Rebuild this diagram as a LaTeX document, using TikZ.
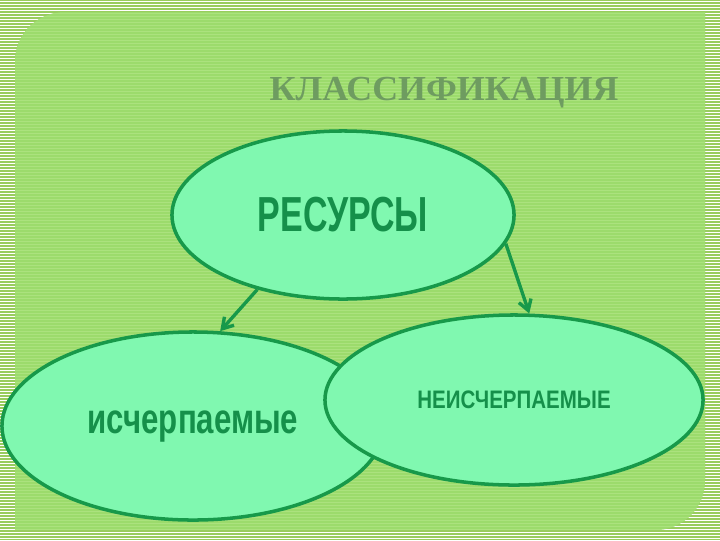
\documentclass[tikz,border=0pt]{standalone}
\usepackage{fontspec}
\usepackage{graphicx}
\setmainfont{Liberation Serif}
\newfontfamily\sansfnt{Liberation Sans}
\usetikzlibrary{arrows.meta,shapes.geometric}
\definecolor{stripegreen}{HTML}{98CC5E}
\definecolor{panelgreen}{HTML}{9CDB6C}
\definecolor{panelline}{HTML}{ABE27E}
\definecolor{mint}{HTML}{80F8B0}
\definecolor{rimgreen}{HTML}{17994A}
\definecolor{textgreen}{HTML}{15904A}
\definecolor{titlegreen}{HTML}{6E9C60}
\tikzset{
  oval/.style={ellipse, draw=rimgreen, line width=2.5pt, fill=mint, inner sep=0pt},
  arr/.style={draw=rimgreen, line width=2.4pt, -{Straight Barb[length=2.6mm,width=3.2mm]}}
}
\begin{document}
\begin{tikzpicture}[x=0.025cm,y=-0.025cm]
\useasboundingbox (0,0) rectangle (720,540);
% background stripes
\fill[stripegreen] (0,0) rectangle (720,540);
\foreach \y in {1,4,...,539} {\draw[white,line width=0.7pt] (0,\y) -- (720,\y);}
% panel
\fill[panelgreen] (15,530) -- (15,62) .. controls (15,34) and (37,12) .. (65,12)
  -- (705,12) -- (705,480) .. controls (705,508) and (683,530) .. (655,530) -- cycle;
\begin{scope}
\clip (15,530) -- (15,62) .. controls (15,34) and (37,12) .. (65,12)
  -- (705,12) -- (705,480) .. controls (705,508) and (683,530) .. (655,530) -- cycle;
\foreach \y in {1,4,...,539} {\draw[panelline,line width=0.5pt] (0,\y) -- (720,\y);}
\end{scope}
% title
\node[text=titlegreen,font=\bfseries\fontsize{25}{27}\selectfont] (title) at (444,93)
  {\scalebox{1.02}[1]{КЛАССИФИКАЦИЯ}};
% ovals
\node[oval,minimum width=8.55cm,minimum height=4.2cm] (res) at (343,215) {};
\node[oval,minimum width=9.55cm,minimum height=4.7cm] (isch) at (193,426) {};
\node[oval,minimum width=9.45cm,minimum height=4.25cm] (neisch) at (514,400) {};
\node[text=textgreen,font=\sansfnt\bfseries\fontsize{35}{38}\selectfont] at (res.center)
  {\scalebox{0.69}[1]{РЕСУРСЫ}};
\node[text=textgreen,font=\sansfnt\bfseries\fontsize{30}{32}\selectfont] at (isch.center)
  {\scalebox{0.74}[1]{исчерпаемые}};
\node[text=textgreen,font=\sansfnt\bfseries\fontsize{18}{20}\selectfont] at (neisch.center)
  {\scalebox{0.81}[1]{НЕИСЧЕРПАЕМЫЕ}};
% arrows
\draw[arr] (res.221) -- (isch.74);
\draw[arr] (res.350) -- (neisch.80);
\end{tikzpicture}
\end{document}
